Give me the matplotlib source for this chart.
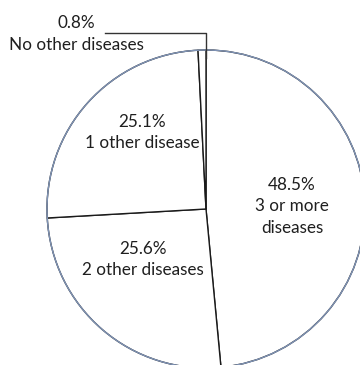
import matplotlib.pyplot as plt
import numpy as np

labels = ['3 or more\ndiseases', '2 other diseases', '1 other disease', 'No other diseases']
shares = [48.5, 25.6, 25.1, 0.8]
label_pos = [(0.541, 0.016), (-0.396, -0.318), (-0.403, 0.481), (-0.814, 1.101)]

plt.rcParams['font.family'] = ['Lato', 'DejaVu Sans']

fig = plt.figure(figsize=(3.6, 3.65), dpi=100)
ax = fig.add_axes([0, 0, 1, 1])

wedges, _ = ax.pie(shares, startangle=90, counterclock=False, colors=['white'] * 4,
                   wedgeprops=dict(edgecolor='#1a1a1a', linewidth=1.0))
ax.add_patch(plt.Circle((0, 0), 1, fill=False, edgecolor='#7f93b5', linewidth=1.0, zorder=5))

for lab, val, (x, y) in zip(labels, shares, label_pos):
    ax.text(x, y, '{:.1f}%\n{}'.format(val, lab), ha='center', va='center',
            fontsize=12.3, color='#1f1f1f', linespacing=1.4, zorder=6)

# leader line for the tiny slice
w = wedges[-1]
mid = np.deg2rad((w.theta1 + w.theta2) / 2)
ax.plot([-0.635, 0.0, 0.0], [1.107, 1.107, 0.95 * np.sin(mid)], color='#333333', lw=1.0, zorder=6)

ax.set_xlim(-206 / 159, (360 - 206) / 159)
ax.set_ylim((209 - 365) / 159, 209 / 159)
ax.set_aspect('equal')
ax.axis('off')

fig.savefig('out.png', dpi=100)
